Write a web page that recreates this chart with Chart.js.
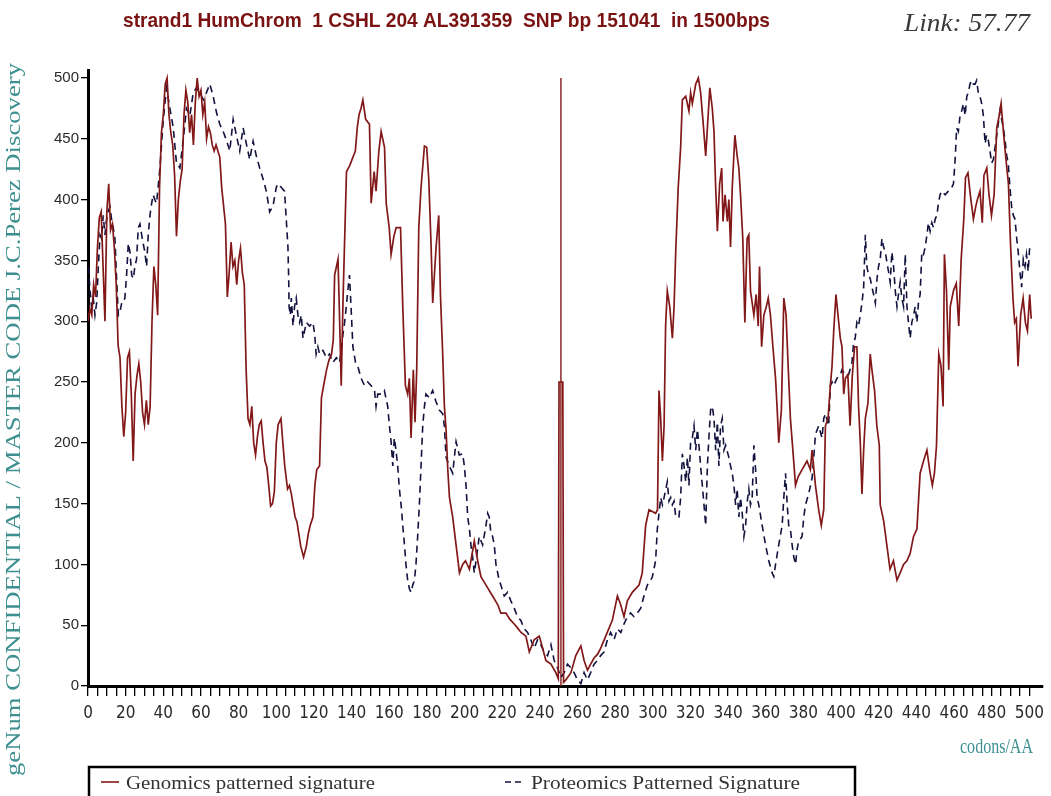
<!DOCTYPE html>
<html>
<head>
<meta charset="utf-8">
<script src="https://cdn.jsdelivr.net/npm/chart.js@4.4.1/dist/chart.umd.min.js"></script>
<style>
html,body{margin:0;padding:0;background:#fff;overflow:hidden}
#wrap{position:relative;width:1051px;height:796px}
</style>
</head>
<body>
<div id="wrap"><canvas id="c" width="1051" height="796"></canvas></div>
<script>
// ---------- text ----------
const chartTitle = 'strand1 HumChrom  1 CSHL 204 AL391359  SNP bp 151041  in 1500bps';
const linkText = 'Link: 57.77';
const yAxisTitle = 'geNum CONFIDENTIAL / MASTER CODE J.C.Perez Discovery';
const xAxisTitle = 'codons/AA';
const seriesNames = ['Genomics patterned signature', 'Proteomics Patterned Signature'];

// ---------- ticks ----------
const yTicks = [0, 50, 100, 150, 200, 250, 300, 350, 400, 450, 500];
const xLabelTicks = [0, 20, 40, 60, 80, 100, 120, 140, 160, 180, 200, 220, 240, 260, 280, 300, 320, 340, 360, 380, 400, 420, 440, 460, 480, 500];
const xMinorStep = 5;

// ---------- genomics series (codon position, value) ----------
const genX = [0,1,2,3,4,5,6,7,8,9,10,11,12,13,14,15,16,17,18,19,20,21,22,23,24,25,26,27,28,29,30,31,32,33,34,35,36,37,38,39,40,41,42,43,44,45,46,47,48,49,50,51,52,53,54,55,56,57,58,59,60,61,62,63,64,65,66,67,68,69,70,71,72,73,74,75,76,77,78,79,80,81,82,83,84,85,86,87,88,89,90,91,92,93,94,95,96,97,98,99,100,101,102.5,103.5,104.5,106,107,108,110,111,112,113,114.5,116,117,118,119.5,120.5,121.5,123,124,125.5,126.7,128,129.4,130.3,131,132.8,133.5,134.5,135.5,137.3,139,141,142,143,144,145,146,147.5,149.5,150.4,152,153,154.5,155.7,157.5,158.4,160,161,162.5,163.7,166,167.2,168.6,169.8,170.7,171.6,172.8,173.7,174.6,175.7,176.9,178.7,179.9,181,182.2,183.1,184.9,186.3,187.2,188.4,189.3,190.2,191.1,192,193.7,195.5,197.3,199,200.5,202.6,205.2,207,208.7,211.4,214.9,217.6,219.3,222,224,226.4,228,230,232.6,234.4,237,239.7,241.5,243.2,245.9,248.5,249.8,250.2,252.2,252.6,253.8,256.5,259.1,261.8,263.5,265.3,267,268.8,270.6,272.3,275,278.5,281.2,282.9,284.7,286.5,289.1,292.7,294.4,296.2,298,301.5,302.5,303.3,304.2,305.1,306,306.8,307.7,309,310.4,311.3,312.2,313.5,314.8,315.7,317.5,319.2,320.1,321,322.8,324.2,325.4,326.6,328.1,329,330.3,331.6,332.5,333.4,334.3,335.5,336.6,337.3,338.4,339.6,340.4,341.3,342.2,343.6,344.8,345.7,346.6,347.8,348.9,350.1,351,351.9,353.7,354.9,356,356.7,357.8,359,360.3,361.3,362.5,363.8,365.2,366,366.9,368.3,369.6,370.8,371.9,373.1,374.4,375.8,377.2,379.3,381.9,383.7,384.6,386.4,388.1,389.5,390.8,391.7,393.1,394.3,395.2,396.1,397.3,398.7,399.6,400.5,401.4,402.3,403.6,404.8,406,407.2,408.4,409.3,410.2,411.1,412,412.9,414.3,415.5,416.4,417.8,419,420.3,420.8,422.6,424.3,426,427.8,429.7,431.4,433.2,435,436.7,438.5,440.3,442,443.8,445.6,447.3,448.5,449.6,450.7,451.9,453.1,454.2,454.9,456,457.2,458,459.7,461.2,462.5,463.8,465.2,466.1,467.4,468.8,470.3,471.5,472.4,473.8,475,475.9,477.4,478.6,479.9,481.3,482.7,484,485,486.4,487.6,488.9,490,491.3,492.2,493.1,494,495.4,496.7,497.9,499,500.2,501];
const genY = [300,310,305,330,320,360,385,390,345,300,390,413,375,380,360,330,280,270,230,205,225,270,275,240,185,240,255,265,250,225,215,235,215,230,300,345,330,305,410,455,470,495,500,470,455,445,420,370,400,415,425,470,490,480,455,470,445,480,500,485,490,470,480,450,460,455,445,440,445,440,435,410,395,380,320,340,365,345,350,330,350,360,340,330,260,220,215,230,200,190,205,215,218,200,185,180,165,148,150,160,200,215,220,200,181,162,165,158,139,135,125,115,106,115,125,132,139,165,178,181,237,250,260,268,273,285,338,351,310,247,320,423,428,436,440,459,470,475,482,466,462,397,423,407,440,456,443,397,377,355,370,377,377,312,247,240,253,204,260,217,260,377,410,444,443,417,364,315,361,387,322,273,230,211,178,155,139,116,93,100,103,96,119,103,90,83,74,67,60,60,55,51,48,44,41,28,38,41,31,21,18,11,6,250,250,3,5,11,25,33,21,13,18,23,26,31,41,54,74,67,57,70,77,83,93,132,145,142,145,243,220,185,214,296,325,312,286,312,358,410,443,482,485,473,488,479,495,500,488,466,436,459,492,475,456,410,374,413,426,382,404,382,400,361,410,453,436,426,404,368,299,368,371,325,305,322,296,345,279,305,312,319,305,279,253,230,200,227,319,305,263,220,194,165,172,178,185,178,194,165,145,132,145,214,220,247,263,292,322,300,286,279,240,253,256,214,256,279,279,230,201,158,194,220,233,273,260,243,214,198,149,136,116,96,103,87,93,100,103,109,123,129,175,185,194,175,165,175,198,273,263,230,355,325,260,312,325,331,296,351,384,418,422,402,384,394,400,407,381,420,426,404,387,404,459,469,479,453,433,413,364,319,299,302,263,305,319,299,292,322,302];

// ---------- proteomics series (codon position, value) ----------
const proX = [0.2,1.1,1.9,2.8,3.7,4.6,5.5,6.4,7.2,8.1,9,9.9,10.8,11.7,12.5,13.4,14.3,15.2,16.1,17,17.9,18.7,19.6,20.5,21.4,22.3,23.2,24.1,24.9,25.8,26.7,27.6,28.5,29.3,30.2,31.1,32,32.9,33.8,34.6,35.5,36.4,38.2,40,41.7,43.5,45.3,47,48.8,50.6,52.3,54.1,55.9,57.6,59.4,61.2,62.9,64.7,66.5,68.2,70,71.8,73.5,75.3,77.1,78.8,80.6,82.4,84.1,85.9,87.7,89.4,91.2,93,94.7,96.5,98.3,100,100.9,102.7,104.4,105.3,106.2,106.6,106.8,107.5,108,108.9,109.7,110.6,111.5,112.4,113.3,114.2,116,117.7,119.5,120.4,121.2,122.1,123,124.8,126.6,128.3,130.1,131.9,133.6,134.5,135.4,136.3,137.2,138,138.9,139.8,140.7,142.1,143.3,145.1,146.9,148.6,150.4,152.2,153,153.9,155.7,157.4,159.2,160.1,161,161.9,162.7,163.6,164.5,165.4,166.3,167.2,168.1,168.9,169.8,170.7,171.6,172.5,173.4,174.2,175.1,176,176.9,177.8,178.7,179.5,181.3,183.1,184.8,186.6,188.4,189.3,190.2,191.9,193.7,195.5,197.2,199,199.9,200.8,201.7,202.6,203.4,204.3,205.2,206.1,207,207.8,209.6,211.4,212.3,213.1,214,214.9,215.8,216.7,218.4,219.3,221.1,222.8,224.6,226.4,228.1,229.9,231.7,233.5,235.2,237,238.8,240.5,242.3,244.1,245.9,247.6,249.4,251.2,252.9,254.7,256.5,258.2,260,261.8,263.5,265.3,267,268.8,270.6,272.3,274.1,275.9,277.6,279.4,281.2,283,284.7,286.5,288.2,290,291.8,293.6,295.3,297.1,298.9,299.8,301.5,302.4,303.3,304.2,305.1,306,307.7,308.6,309.5,310.4,311.3,312.2,313.9,314.8,315.7,316.6,317.5,318.4,319.2,320.1,321,321.9,322.8,323.7,324.5,325.4,326.3,327.2,328.1,329,329.8,330.7,331.6,332.5,333.4,334.3,335.1,336,336.9,337.8,338.7,340.4,341.3,342.2,343.1,344,344.8,345.7,346.6,347.5,348.4,349.3,350.2,351,351.9,352.8,353.7,354.6,355.4,356.3,358.1,359.9,361.6,363.4,364.3,365.2,366.9,368.7,369.6,370.5,371.4,372.2,373.1,374,374.9,375.8,376.7,377.5,379.3,380.2,381.1,382.8,384.6,385.5,386.4,388.1,389.9,390.8,391.7,393.4,394.3,395.2,396.1,397.8,399.6,400.5,402.3,404,405.8,406.7,407.5,408.4,409.3,410.2,411.1,412,412.9,413.7,414.6,415.5,416.4,417.3,418.2,419.1,419.9,420.8,421.7,422.6,423.5,424.4,425.2,426.1,427,427.9,428.8,429.7,430.5,431.4,432.3,433.2,434.1,435,435.8,436.7,437.6,438.5,439.4,440.3,441.1,442,442.9,443.8,444.7,445.6,446.4,447.3,448.2,449.1,450,450.9,451.7,452.6,453.5,455.3,457,458.8,459.7,460.6,461.4,462.3,463.2,464.1,465,465.9,466.8,467.6,468.5,469.4,470.3,471.2,472,472.9,473.8,474.7,475.6,476.5,477.3,478.2,479.1,480,480.9,481.8,482.7,483.5,484.4,485.3,486.2,487.1,488,488.8,489.7,490.6,491.5,492.4,493.3,494.1,495,495.9,496.8,497.7,498.5,499.4,500.3];
const proY = [345,325,312,319,305,315,345,371,368,387,371,384,391,394,384,377,368,335,305,308,315,315,319,338,364,357,338,335,345,351,377,380,371,364,357,345,371,387,397,404,400,397,426,466,492,475,459,430,426,449,475,469,488,492,488,482,488,495,485,472,462,456,449,440,466,453,440,459,446,433,448,436,426,417,407,390,395,410,413,410,407,384,361,335,312,305,319,296,312,319,305,299,305,286,299,296,299,289,273,279,273,276,270,273,266,270,266,276,289,299,312,325,338,309,279,266,263,253,247,250,247,243,230,240,240,243,230,214,201,181,204,194,181,162,149,132,116,100,87,80,77,83,87,100,123,149,181,214,230,240,237,243,234,227,224,214,188,181,175,201,190,191,181,165,139,129,116,106,93,103,113,123,116,132,142,139,126,123,116,100,87,83,74,77,70,64,57,54,47,44,38,31,38,34,28,25,34,21,15,7,11,18,15,11,5,2,11,5,11,18,21,25,28,38,44,38,47,44,51,57,60,57,60,64,74,83,87,90,103,129,142,155,149,155,168,152,155,149,152,139,139,155,191,181,168,188,165,201,204,214,194,211,198,181,165,149,132,181,204,227,230,220,194,217,181,214,220,194,198,188,181,175,165,149,162,139,155,142,123,132,152,162,149,155,198,178,155,149,132,116,103,93,90,100,116,132,155,175,149,132,129,116,106,100,113,119,123,139,149,158,171,188,207,214,204,220,224,214,247,250,247,253,256,260,256,256,266,283,286,299,296,305,315,328,371,345,338,335,328,322,315,335,345,351,368,361,357,348,341,332,357,345,325,312,322,332,319,312,355,312,299,286,299,305,312,299,315,322,357,355,361,371,381,374,381,377,384,387,397,404,407,404,407,410,413,433,459,456,469,473,479,469,485,488,495,498,495,495,498,488,485,479,469,446,453,449,440,430,433,443,453,462,473,466,459,449,436,430,410,394,387,384,368,357,341,328,351,345,355,341,364];

// ---------- SNP marker ----------
const snpX = [251.2, 251.2];
const snpY = [0, 500];

// ---------- colours ----------
const genColor = '#821818';
const proColor = '#12123f';
const tealColor = '#3e8f8f';

const xMinorTicks = [];
for (let v = 0; v <= 500; v += xMinorStep) xMinorTicks.push(v);

function fitText(ctx, text, x, y, width, font, color, align) {
  ctx.save();
  ctx.font = font;
  ctx.fillStyle = color;
  ctx.textBaseline = 'alphabetic';
  ctx.textAlign = 'left';
  const w = ctx.measureText(text).width;
  const s = width / w;
  ctx.translate(align === 'right' ? x - width : x, y);
  ctx.scale(s, 1);
  ctx.fillText(text, 0, 0);
  ctx.restore();
}

const decor = {
  id: 'decor',
  afterDraw(chart) {
    const ctx = chart.ctx;
    // title
    fitText(ctx, chartTitle, 123, 27, 647, 'bold 21px "Liberation Sans Narrow", "Liberation Sans", Arial, sans-serif', '#7a1212');
    // link
    fitText(ctx, linkText, 1030, 31, 126, 'italic 26px "Liberation Serif", "Times New Roman", serif', '#3a3a3a', 'right');
    // y axis title (rotated)
    ctx.save();
    ctx.font = '21px "Liberation Serif", "Times New Roman", serif';
    const w = ctx.measureText(yAxisTitle).width;
    ctx.translate(20, 776);
    ctx.rotate(-Math.PI / 2);
    ctx.scale(713 / w, 1);
    ctx.fillStyle = tealColor;
    ctx.fillText(yAxisTitle, 0, 0);
    ctx.restore();
    // x axis title
    fitText(ctx, xAxisTitle, 1033, 753, 73, '20px "Liberation Serif", "Times New Roman", serif', tealColor, 'right');
    // legend box
    ctx.save();
    ctx.strokeStyle = '#000';
    ctx.lineWidth = 2.5;
    ctx.strokeRect(89, 767, 766, 40);
    const ds = chart.data.datasets;
    ctx.strokeStyle = ds[0].borderColor;
    ctx.lineWidth = 1.6;
    ctx.beginPath(); ctx.moveTo(101, 782); ctx.lineTo(119, 782); ctx.stroke();
    ctx.strokeStyle = ds[1].borderColor;
    ctx.setLineDash([6, 4]);
    ctx.beginPath(); ctx.moveTo(505, 782); ctx.lineTo(525, 782); ctx.stroke();
    ctx.restore();
    fitText(ctx, ds[0].label, 126, 789, 249, '19px "Liberation Serif", "Times New Roman", serif', '#333');
    fitText(ctx, ds[1].label, 531, 789, 269, '19px "Liberation Serif", "Times New Roman", serif', '#333');
  }
};

new Chart(document.getElementById('c'), {
  type: 'line',
  data: {
    datasets: [
      { label: seriesNames[0], data: genX.map((x, i) => ({ x, y: genY[i] })), borderColor: genColor, borderWidth: 1.7, pointRadius: 0, tension: 0, fill: false },
      { label: seriesNames[1], data: proX.map((x, i) => ({ x, y: proY[i] })), borderColor: proColor, borderWidth: 1.6, borderDash: [7, 5], pointRadius: 0, tension: 0, fill: false },
      { label: 'SNP', data: snpX.map((x, i) => ({ x, y: snpY[i] })), borderColor: genColor, borderWidth: 1.4, pointRadius: 0, fill: false }
    ]
  },
  options: {
    responsive: false,
    animation: false,
    devicePixelRatio: 1,
    layout: { padding: { top: 70, right: 6, left: 0, bottom: 0 } },
    plugins: { legend: { display: false }, title: { display: false }, tooltip: { enabled: false } },
    scales: {
      x: {
        type: 'linear', min: 0, max: 507,
        afterBuildTicks: s => { s.ticks = xMinorTicks.map(v => ({ value: v })); },
        afterFit: s => { s.height = 110; },
        grid: { drawOnChartArea: false, drawTicks: true, tickLength: 10, color: '#000', lineWidth: 1.3 },
        border: { display: true, color: '#000', width: 3 },
        ticks: {
          autoSkip: false, maxRotation: 0, minRotation: 0, padding: 7, color: '#2a2a2a',
          font: { family: '"Liberation Sans Narrow", "DejaVu Sans Condensed", sans-serif', size: 17 },
          callback: v => xLabelTicks.includes(v) ? String(v) : ''
        }
      },
      y: {
        type: 'linear', min: 0, max: 506.6,
        afterBuildTicks: s => { s.ticks = yTicks.map(v => ({ value: v })); },
        afterFit: s => { s.width = 88; },
        grid: { drawOnChartArea: false, drawTicks: true, tickLength: 7, color: '#000', lineWidth: 1.3 },
        border: { display: true, color: '#000', width: 3 },
        ticks: { padding: 2, color: '#2a2a2a', font: { family: '"Liberation Sans", Arial, sans-serif', size: 15 } }
      }
    }
  },
  plugins: [decor]
});
</script>
</body>
</html>
